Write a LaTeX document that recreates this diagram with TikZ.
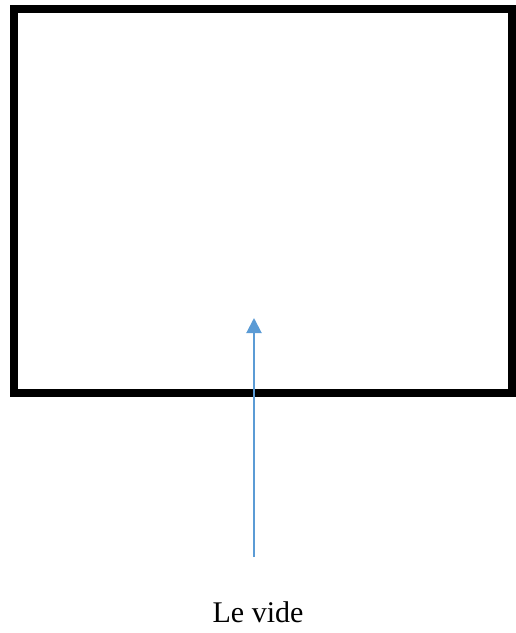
\documentclass[tikz,border=0pt]{standalone}
\usepackage{fontspec}
\setmainfont{Liberation Serif}
\usetikzlibrary{arrows.meta}
\definecolor{arrowblue}{RGB}{91,155,213}
\tikzset{
  frame/.style={draw=black, line width=8pt, line join=miter},
  bluearrow/.style={draw=arrowblue, line width=2pt, -{Triangle[length=15pt,width=15pt]}},
  caption/.style={font=\fontsize{30}{34}\selectfont, anchor=base, inner sep=0pt}
}
\begin{document}
\begin{tikzpicture}[x=1pt,y=-1pt]
\useasboundingbox (0,0) rectangle (516,633);
\draw[frame] (14,9) rectangle (512,393);
\coordinate (start) at (254,557);
\coordinate (tip) at (254,318);
\draw[bluearrow] (start) -- (tip);
\node[caption] (label) at (258,622) {Le vide};
\end{tikzpicture}
\end{document}
